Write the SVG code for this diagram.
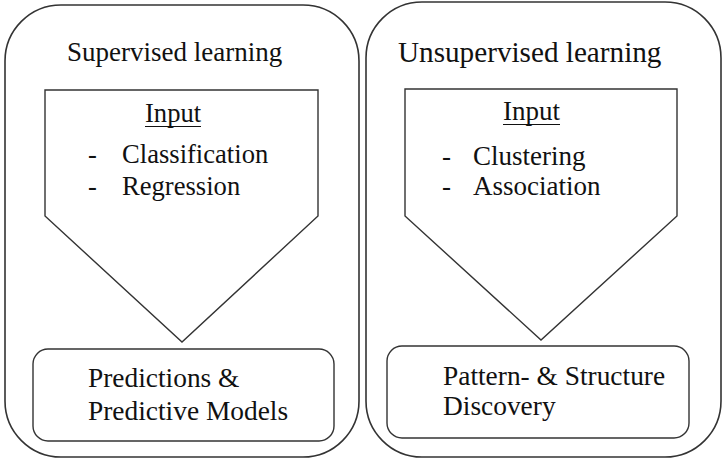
<svg xmlns="http://www.w3.org/2000/svg" width="723" height="459" viewBox="0 0 723 459">
  <style>
    .frame { fill: none; stroke: #333; stroke-width: 1.6; }
    .shape { fill: #fff; stroke: #333; stroke-width: 1.4; }
    text   { font-family: "Liberation Serif", "Times New Roman", serif; fill: #111; }
    .t-left  { font-size: 27px; }
    .t-right { font-size: 29.2px; }
    .i-left  { font-size: 26.6px; }
    .i-right { font-size: 27px; }
    .out     { font-size: 27.4px; }
    .under { stroke: #111; stroke-width: 1.2; }
  </style>
  <rect width="723" height="459" fill="#fff"/>

  <!-- Supervised learning panel -->
  <g id="supervised">
    <rect class="frame" x="5" y="5" width="354" height="452" rx="56" ry="56"/>
    <text class="t-left" x="67" y="61">Supervised learning</text>
  </g>
  <g id="supervised-input">
    <path class="shape" d="M45,90 L318,90 L318,216 L182,342 L45,216 Z"/>
    <text class="i-left" x="145" y="122">Input</text>
    <line class="under" x1="145" y1="126.5" x2="201" y2="126.5"/>
    <text class="i-left" x="88" y="163">-</text>
    <text class="i-left" x="122" y="163">Classification</text>
    <text class="i-left" x="88" y="195">-</text>
    <text class="i-left" x="122" y="195">Regression</text>
  </g>
  <g id="supervised-output">
    <rect class="shape" x="33" y="349" width="301" height="92" rx="15" ry="15"/>
    <text class="out" x="88" y="387">Predictions &amp;</text>
    <text class="out" x="88" y="420">Predictive Models</text>
  </g>

  <!-- Unsupervised learning panel -->
  <g id="unsupervised">
    <rect class="frame" x="366" y="2" width="355" height="455" rx="56" ry="56"/>
    <text class="t-right" x="398" y="62">Unsupervised learning</text>
  </g>
  <g id="unsupervised-input">
    <path class="shape" d="M405,89 L677,89 L677,216 L541,340 L405,216 Z"/>
    <text class="i-right" x="503" y="120">Input</text>
    <line class="under" x1="503" y1="124.5" x2="560" y2="124.5"/>
    <text class="i-right" x="442" y="165">-</text>
    <text class="i-right" x="473" y="165">Clustering</text>
    <text class="i-right" x="442" y="195">-</text>
    <text class="i-right" x="473" y="195">Association</text>
  </g>
  <g id="unsupervised-output">
    <rect class="shape" x="387" y="346" width="302" height="92" rx="15" ry="15"/>
    <text class="out" x="443" y="385">Pattern- &amp; Structure</text>
    <text class="out" x="443" y="415">Discovery</text>
  </g>

  <!-- no connectors between nodes -->
  <g id="connectors"/>
</svg>
